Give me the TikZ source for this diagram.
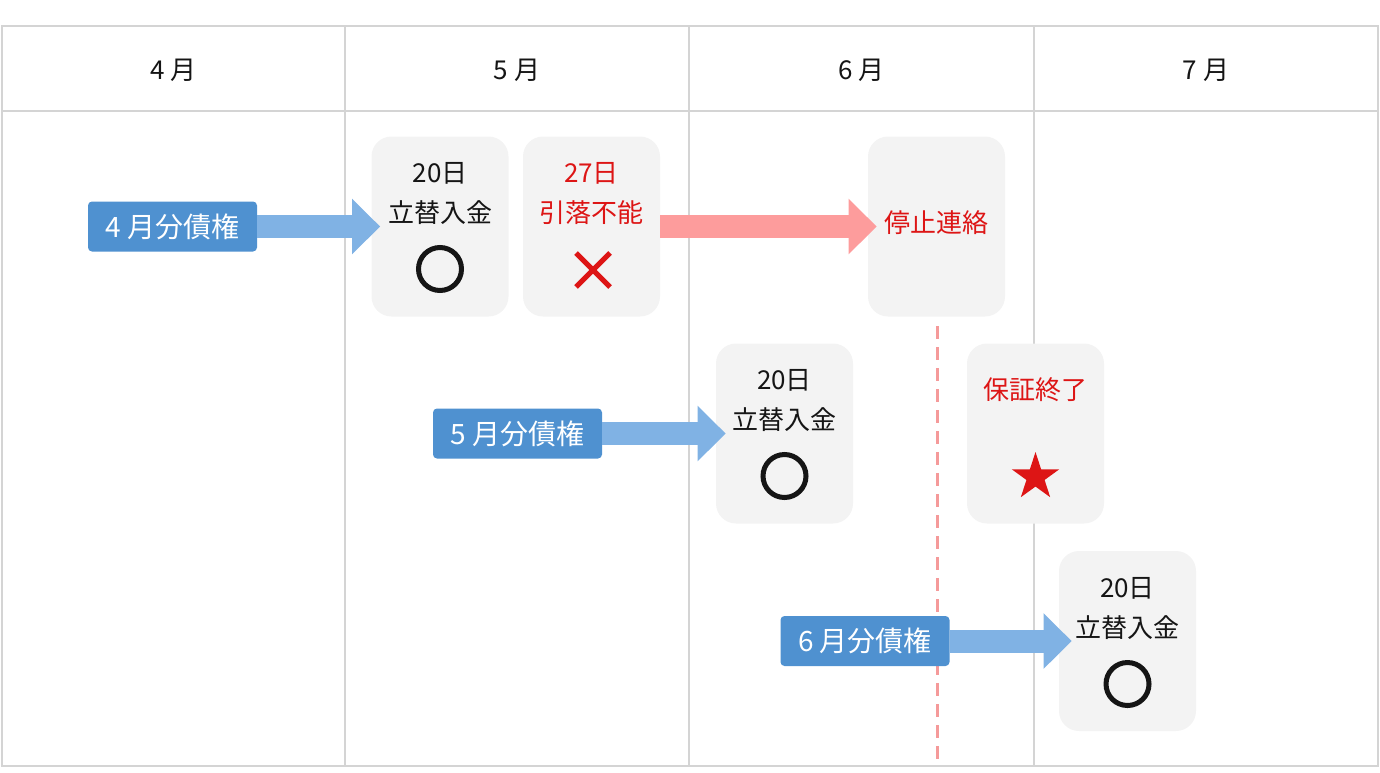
\documentclass[tikz,border=0pt]{standalone}
\usepackage{fontspec}
\setmainfont{Noto Sans CJK JP}
\usetikzlibrary{arrows.meta,shapes.geometric}
\definecolor{gridgray}{HTML}{D4D4D4}
\definecolor{cardgray}{HTML}{F3F3F3}
\definecolor{claimblue}{HTML}{4F91D0}
\definecolor{arrowblue}{HTML}{80B2E4}
\definecolor{arrowred}{HTML}{FD9C9C}
\definecolor{alertred}{HTML}{DD1515}
\definecolor{dashred}{HTML}{F59A9A}
\definecolor{inkblack}{HTML}{151515}
\tikzset{
 card/.style={fill=cardgray,rounded corners=10pt,minimum width=68.5pt,minimum height=90pt,inner sep=0pt},
 claim/.style={fill=claimblue,text=white,rounded corners=2pt,minimum width=84.5pt,minimum height=25pt,inner sep=0pt,font=\fontsize{14}{14}\selectfont},
 cardtext/.style={text=inkblack,inner sep=0pt,font=\fontsize{13}{13}\selectfont},
 alert/.style={cardtext,text=alertred},
 month/.style={text=inkblack,inner sep=0pt,font=\fontsize{13}{13}\selectfont},
 okmark/.style={draw=inkblack,line width=2.5pt,circle,minimum size=21.5pt,inner sep=0pt},
 flow/.style={line width=11.5pt,-{Triangle[length=14pt,width=27pt]}},
}
\begin{document}
\begin{tikzpicture}[x=0.5pt,y=-0.5pt]
\useasboundingbox (0,0) rectangle (1380,772);

\draw[gridgray,line width=1pt] (2,26) rectangle (1378,766);
\draw[gridgray,line width=1pt] (2,111)--(1378,111);
\foreach \x in {345,689,1034} \draw[gridgray,line width=1pt] (\x,26)--(\x,766);
\foreach \x/\m in {173.5/4,517/5,861.5/6,1206/7} \node[month] (month\m) at (\x,70) {\m\ 月};

\node[card] (cardA) at (440,226.5) {};
\node[card] (cardB) at (591.5,226.5) {};
\node[card] (cardC) at (936.5,226.5) {};
\node[card] (cardD) at (784.5,433.5) {};
\node[card] (cardE) at (1035.5,433.5) {};
\node[card] (cardF) at (1127.5,641) {};

\coordinate (stopTop) at (937,326);
\coordinate (stopEnd) at (937,766);
\draw[dashred,line width=1.5pt,dash pattern=on 6.5pt off 4pt] (stopTop)--(stopEnd);

\foreach \c/\x/\y in {A/440/137,D/784.5/344,F/1127.5/552}{
 \node[cardtext] (day\c) at (\x,\y+36) {20日};
 \node[cardtext] (pay\c) at (\x,\y+76) {立替入金};
 \node[okmark] (ok\c) at (\x,\y+132) {};
}
\node[alert] (dayB) at (591.5,173) {27日};
\node[alert] (failB) at (591.5,213) {引落不能};
\draw[alertred,line width=2.5pt] (576,253)--(610,287) (576,287)--(610,253);
\node[alert] (stopC) at (936.5,223) {停止連絡};
\node[alert] (endE) at (1035.5,390) {保証終了};
\node[star,star points=5,star point ratio=2.618,fill=alertred,minimum size=25pt,inner sep=0pt] (starE) at (1035.5,477) {};

\node[claim] (claim4) at (172.5,226.5) {4 月分債権};
\node[claim] (claim5) at (517.5,433.5) {5 月分債権};
\node[claim] (claim6) at (865,641) {6 月分債権};

\draw[flow,arrowblue] (claim4.east) -- ([xshift=4.5pt]cardA.west);
\draw[flow,arrowblue] (claim5.east) -- ([xshift=5pt]cardD.west);
\draw[flow,arrowblue] (claim6.east) -- ([xshift=6.5pt]cardF.west);
\draw[flow,arrowred] (cardB.east) -- ([xshift=4.5pt]cardC.west);

\end{tikzpicture}
\end{document}
